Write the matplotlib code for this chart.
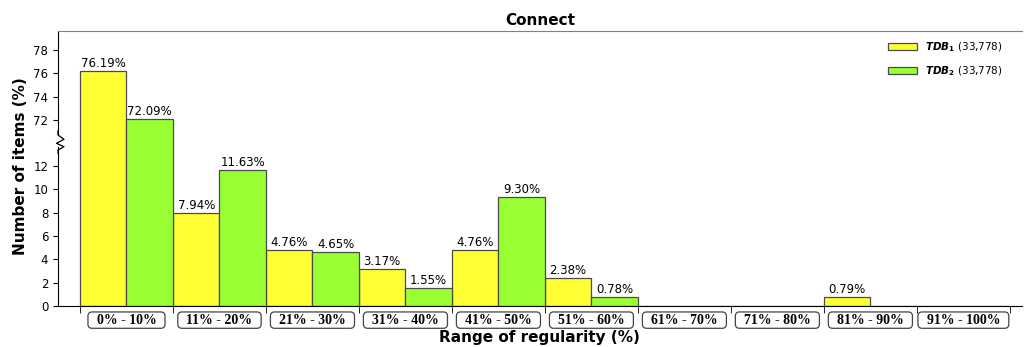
import numpy as np
import matplotlib.pyplot as plt
from matplotlib.lines import Line2D

plt.rcParams.update({'font.size': 8.5})

ranges = ['0% - 10%', '11% - 20%', '21% - 30%', '31% - 40%', '41% - 50%',
          '51% - 60%', '61% - 70%', '71% - 80%', '81% - 90%', '91% - 100%']
tdb1 = [76.19, 7.94, 4.76, 3.17, 4.76, 2.38, 0, 0, 0.79, 0]
tdb2 = [72.09, 11.63, 4.65, 1.55, 9.30, 0.78, 0, 0, 0, 0]
labels = [r'$\mathbfit{TDB}_\mathbf{1}$ (33,778)', r'$\mathbfit{TDB}_\mathbf{2}$ (33,778)']

c1 = '#ffff33'
c2 = '#99ff33'
ec = '#4a4a4a'

fig = plt.figure(figsize=(10.24, 3.47), dpi=100)
ax_top = fig.add_axes([0.0566, 0.6023, 0.9414, 0.3084])
ax_bot = fig.add_axes([0.0566, 0.1182, 0.9414, 0.4841])

x = np.arange(len(ranges))
w = 0.5
for ax in (ax_top, ax_bot):
    ax.bar(x - w/2, tdb1, w, color=c1, edgecolor=ec, linewidth=0.9, label=labels[0])
    ax.bar(x + w/2, tdb2, w, color=c2, edgecolor=ec, linewidth=0.9, label=labels[1])
    ax.set_xlim(-0.737, 9.63)
    ax.spines['right'].set_visible(False)

ax_top.set_ylim(70.46, 79.63)
ax_bot.set_ylim(0, 14.4)
ax_top.set_yticks([72, 74, 76, 78])
ax_bot.set_yticks(np.arange(0, 13, 2))
ax_top.spines['bottom'].set_visible(False)
ax_bot.spines['top'].set_visible(False)
ax_top.spines['top'].set_color('#808080')
ax_top.spines['left'].set_bounds(70.8, 79.63)
ax_bot.spines['left'].set_bounds(0, 13.6)
ax_top.tick_params(axis='x', which='both', bottom=False, labelbottom=False)

# value labels
for ax, lo, hi in ((ax_top, 70.46, 79.63), (ax_bot, 0, 14.4)):
    for xi, v1, v2 in zip(x, tdb1, tdb2):
        for xx, v in ((xi - w/2, v1), (xi + w/2, v2)):
            if v > 0 and lo <= v < hi - 0.5:
                ax.text(xx, v + 0.1, '%.2f%%' % v, ha='center', va='bottom', fontsize=8.5)

# x axis: boxed category labels at centers, ticks at group edges
ax_bot.set_xticks(x)
ax_bot.set_xticklabels(['  ' + r + '  ' for r in ranges], fontfamily='Liberation Serif',
                       fontweight='bold', fontsize=10)
ax_bot.set_xticks(np.arange(-0.5, 10.0, 1), minor=True)
ax_bot.tick_params(axis='x', which='major', length=0, pad=5.5)
ax_bot.tick_params(axis='x', which='minor', length=5)
for t in ax_bot.get_xticklabels():
    t.set_bbox(dict(boxstyle='round,pad=0.12,rounding_size=0.3', fc='white', ec='#444444', lw=0.9))

ax_top.set_title('Connect', fontweight='bold', fontsize=11, pad=4)
fig.text(0.5266, 0.026, 'Range of regularity (%)', ha='center', va='center',
         fontweight='bold', fontsize=11)
fig.text(0.02, 0.52, 'Number of items (%)', rotation=90, ha='center', va='center',
         fontweight='bold', fontsize=11)

# zigzag break mark on the y axis
zx = np.array([58, 58, 64, 56.5, 64, 58, 58]) / 1024
zy = 1 - np.array([131, 135, 139.3, 143.3, 146.7, 150, 153]) / 347
fig.add_artist(Line2D(zx, zy, color='black', lw=0.9))

ax_top.legend(loc='upper right', frameon=False, fontsize=7.5, handlelength=2.8,
              handleheight=0.7, labelspacing=1.0, bbox_to_anchor=(0.99, 1.0))

fig.savefig('out.png', dpi=100)
